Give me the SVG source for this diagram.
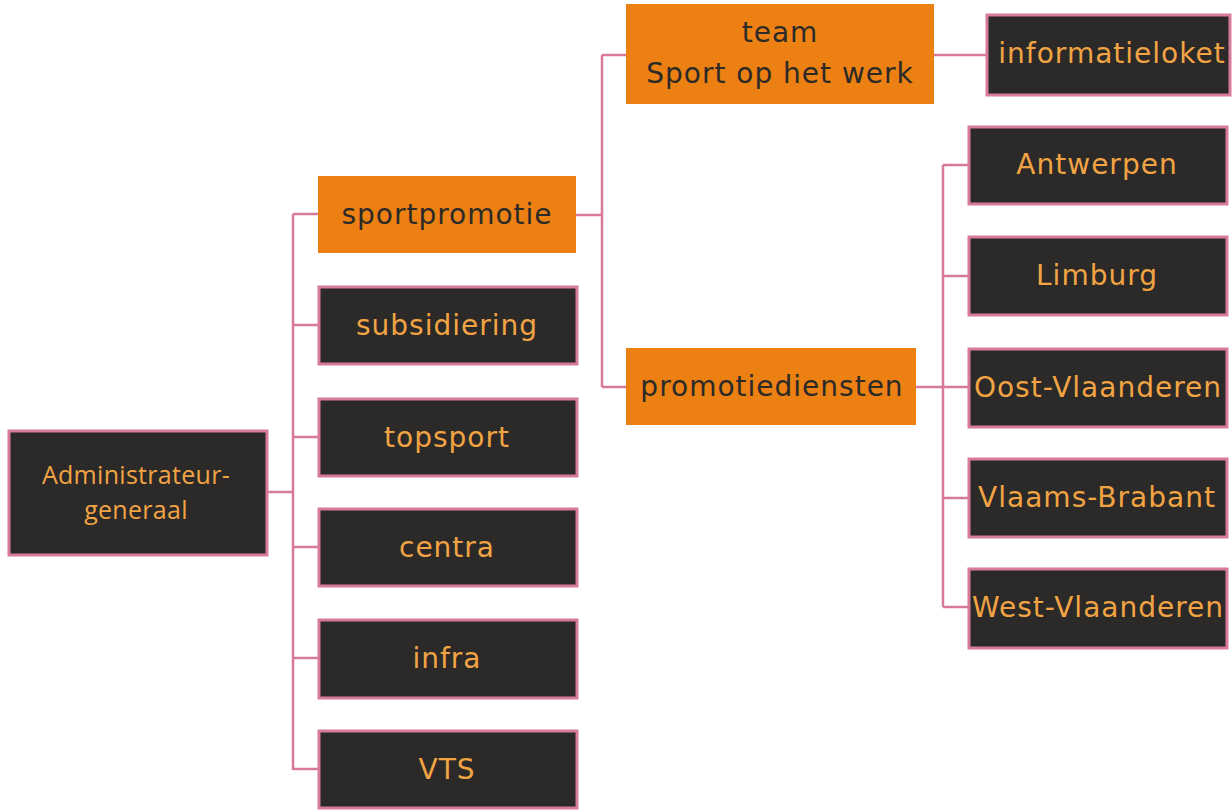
<svg xmlns="http://www.w3.org/2000/svg" width="1232" height="811" viewBox="0 0 1232 811">
<style>
.dk{fill:#2b2a28;stroke:#d87a99;stroke-width:3}
.or{fill:#ec8013}
.t{font-family:"DejaVu Sans",sans-serif;font-size:28px;text-anchor:middle;letter-spacing:1px}
.lt{fill:#f2a444}
.dt{fill:#2b2a28}
.c{fill:none;stroke:#d6799a;stroke-width:2.5}
</style>
<rect width="1232" height="811" fill="#fff"/>
<g id="connectors">
<path class="c" d="M267 492H293M293 214V770M293 214H318M293 325H319M293 437H319M293 547H319M293 658H319M293 769H319"/>
<path class="c" d="M576 215H602M602 55V387M602 55H626M602 387H626"/>
<path class="c" d="M934 55H987"/>
<path class="c" d="M916 387H943M943 165V607M943 165H969M943 276H969M943 387H969M943 498H969M943 607H969"/>
</g>
<g id="admin"><rect class="dk" x="9" y="431" width="258" height="124"/>
<text font-family="'Open Sans',sans-serif" font-size="25" text-anchor="middle" fill="#f2a444" letter-spacing="0.3"><tspan x="136" y="484">Administrateur-</tspan><tspan x="136" y="519">generaal</tspan></text></g>
<g id="sportpromotie"><rect class="or" x="318" y="176" width="258" height="77"/><text class="t dt" x="447" y="224">sportpromotie</text></g>
<g id="subsidiering"><rect class="dk" x="319" y="287" width="258" height="77"/><text class="t lt" x="447" y="335">subsidiering</text></g>
<g id="topsport"><rect class="dk" x="319" y="399" width="258" height="77"/><text class="t lt" x="447" y="447">topsport</text></g>
<g id="centra"><rect class="dk" x="319" y="509" width="258" height="77"/><text class="t lt" x="447" y="557">centra</text></g>
<g id="infra"><rect class="dk" x="319" y="620" width="258" height="78"/><text class="t lt" x="447" y="668">infra</text></g>
<g id="vts"><rect class="dk" x="319" y="731" width="258" height="77"/><text class="t lt" x="447" y="779">VTS</text></g>
<g id="team"><rect class="or" x="626" y="4" width="308" height="100"/><text class="t dt"><tspan x="780" y="42">team</tspan><tspan x="780" y="83">Sport op het werk</tspan></text></g>
<g id="informatieloket"><rect class="dk" x="987" y="15" width="243" height="80"/><text class="t lt" x="1112" y="63">informatieloket</text></g>
<g id="promotiediensten"><rect class="or" x="626" y="348" width="290" height="77"/><text class="t dt" x="772" y="396">promotiediensten</text></g>
<g id="antwerpen"><rect class="dk" x="969" y="127" width="258" height="77"/><text class="t lt" x="1097" y="174">Antwerpen</text></g>
<g id="limburg"><rect class="dk" x="969" y="237" width="258" height="78"/><text class="t lt" x="1097" y="285">Limburg</text></g>
<g id="oost"><rect class="dk" x="969" y="349" width="258" height="78"/><text class="t lt" x="1098" y="397">Oost-Vlaanderen</text></g>
<g id="vlaams"><rect class="dk" x="969" y="459" width="258" height="78"/><text class="t lt" x="1097" y="507">Vlaams-Brabant</text></g>
<g id="west"><rect class="dk" x="969" y="569" width="258" height="79"/><text class="t lt" x="1098" y="617">West-Vlaanderen</text></g>
</svg>
